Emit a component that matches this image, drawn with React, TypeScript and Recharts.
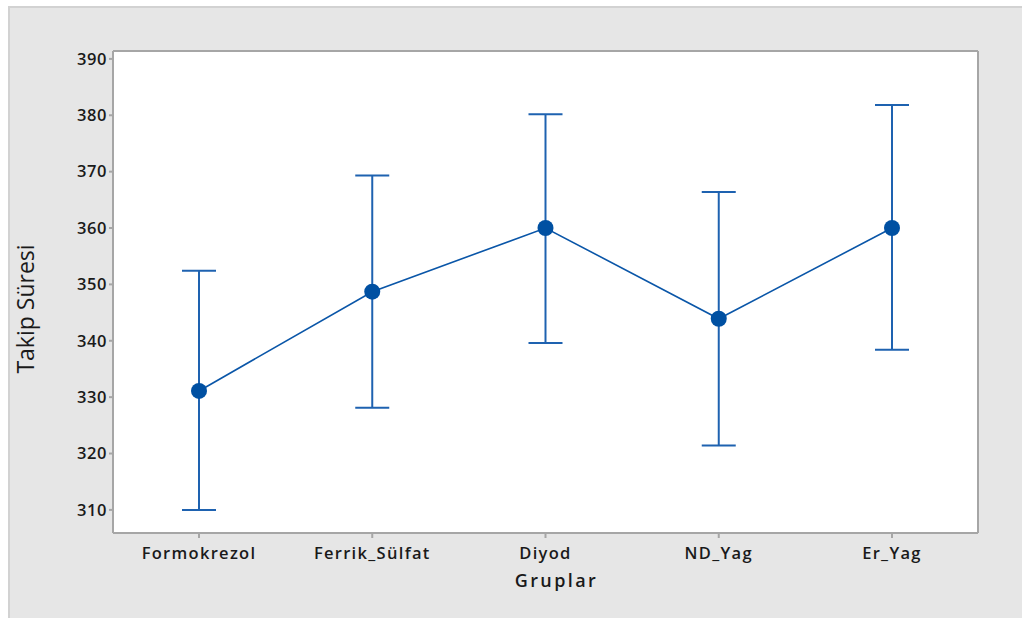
import React from 'react'
import {
  ComposedChart,
  Line,
  XAxis,
  YAxis,
  ErrorBar,
  CartesianGrid,
  Label,
} from 'recharts'

const groups = ['Formokrezol', 'Ferrik_Sülfat', 'Diyod', 'ND_Yag', 'Er_Yag']
const means = [331.1, 348.7, 360.0, 343.9, 360.0]
const lowers = [310.0, 328.1, 339.6, 321.4, 338.4]
const uppers = [352.4, 369.3, 380.2, 366.4, 381.8]
const yTicks = [310, 320, 330, 340, 350, 360, 370, 380, 390]

const data = groups.map((g, i) => ({
  group: g,
  mean: means[i],
  err: [means[i] - lowers[i], uppers[i] - means[i]],
}))

const BLUE = '#0a56a8'
const AXIS = '#a6a6a6'
const FONT = '"Open Sans", "DejaVu Sans", sans-serif'
const Y_DOMAIN: [number, number] = [305.9, 391.4]

export default function App() {
  return (
    <div
      style={{
        position: 'absolute',
        left: 8,
        top: 6,
        width: 1014,
        height: 612,
        background: '#e6e6e6',
        borderTop: '2px solid #d2d2d2',
        borderLeft: '2px solid #d2d2d2',
        boxSizing: 'border-box',
      }}
    >
      <ComposedChart
        width={1012}
        height={610}
        data={data}
        margin={{ top: 43, right: 44, bottom: 0, left: 38 }}
      >
        {/* white plot background plus the top/right frame lines */}
        <CartesianGrid
          fill="#ffffff"
          stroke={AXIS}
          strokeWidth={2}
          horizontalCoordinatesGenerator={({ offset }: any) => [offset.top]}
          verticalCoordinatesGenerator={({ offset }: any) => [offset.left + offset.width]}
        />
        <XAxis
          dataKey="group"
          padding={{ left: 86, right: 86 }}
          tick={{ fontSize: 16.5, fontWeight: 600, fill: '#1a1a1a', fontFamily: FONT, letterSpacing: 1.3 }}
          tickSize={5}
          tickMargin={9}
          stroke={AXIS}
          strokeWidth={2}
          height={85}
        >
          <Label
            value="Gruplar"
            position="insideTop"
            offset={41}
            style={{ fontSize: 18, fontWeight: 600, fill: '#1a1a1a', fontFamily: FONT, letterSpacing: 2.4 }}
            dx={11}
          />
        </XAxis>
        <YAxis
          domain={Y_DOMAIN}
          ticks={yTicks}
          allowDataOverflow
          tick={{ fontSize: 16.5, fontWeight: 600, fill: '#1a1a1a', fontFamily: FONT, letterSpacing: 0.6 }}
          tickSize={4}
          tickMargin={2}
          stroke={AXIS}
          strokeWidth={2}
          width={65}
        >
          <Label
            content={() => (
              <text
                x={15}
                y={301}
                transform="rotate(-90 15 301)"
                textAnchor="middle"
                dominantBaseline="central"
                style={{ fontSize: 23, fill: '#1a1a1a', fontFamily: FONT }}
              >
                Takip Süresi
              </text>
            )}
          />
        </YAxis>
        <Line
          dataKey="mean"
          stroke={BLUE}
          strokeWidth={1.6}
          dot={{ r: 8, fill: '#0050a2', stroke: '#0050a2', strokeWidth: 0 }}
          activeDot={false}
          isAnimationActive={false}
        >
          <ErrorBar dataKey="err" width={17} stroke="#1e62b0" strokeWidth={2} isAnimationActive={false} />
        </Line>
      </ComposedChart>
    </div>
  )
}
